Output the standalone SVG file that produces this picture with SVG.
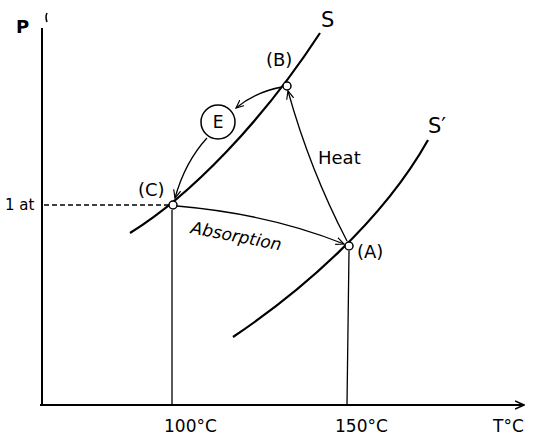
<svg xmlns="http://www.w3.org/2000/svg" width="533" height="439" viewBox="0 0 533 439">
<style>
text{font-family:"DejaVu Sans","Liberation Sans",sans-serif;fill:#000}
.lbl{font-size:17px}
.curve{fill:none;stroke:#000;stroke-width:2.2}
.thin{fill:none;stroke:#000;stroke-width:1.3}
.arr{fill:none;stroke:#000;stroke-width:1.3;marker-end:url(#ah)}
.pt{fill:#fff;stroke:#000;stroke-width:1.5}
</style>
<defs>
<marker id="ah" viewBox="0 0 10 10" refX="9" refY="5" markerWidth="9" markerHeight="9" orient="auto" markerUnits="userSpaceOnUse">
<path d="M0,1 L9,5 L0,9" fill="none" stroke="#000" stroke-width="1.3"/>
</marker>
<marker id="axh" viewBox="0 0 10 10" refX="9" refY="5" markerWidth="10" markerHeight="10" orient="auto" markerUnits="userSpaceOnUse">
<path d="M0,1 L9,5 L0,9" fill="none" stroke="#000" stroke-width="1.5"/>
</marker>
</defs>
<rect width="533" height="439" fill="#fff"/>
<g id="axes">
<path d="M42,28 L42,405" fill="none" stroke="#000" stroke-width="2"/>
<path d="M47,13 Q45,17 47,22" fill="none" stroke="#000" stroke-width="1.5"/>
<path d="M40,405 L524,405" fill="none" stroke="#000" stroke-width="2" marker-end="url(#axh)"/>
<text x="16" y="33" font-size="18" font-weight="bold">P</text>
<text x="5" y="210" font-size="15">1 at</text>
<text x="164" y="432" class="lbl">100°C</text>
<text x="335" y="432" class="lbl">150°C</text>
<text x="493" y="432" class="lbl">T°C</text>
</g>
<g id="curve-S">
<path class="curve" d="M130,233 C190,196 262,122 320,33"/>
<text x="321" y="27" font-size="21">S</text>
</g>
<g id="curve-S-prime">
<path class="curve" d="M233,337 C300,292 382,222 428,140"/>
<text x="428" y="133" font-size="21">S′</text>
</g>
<g id="connectors">
<path d="M44,205 L168,205" fill="none" stroke="#000" stroke-width="1.3" stroke-dasharray="5,3"/>
<path class="thin" d="M172,210 L172,405"/>
<path class="thin" d="M349,251 L347,405"/>
<path class="arr" d="M177,206 Q270,214 344,244"/>
<path class="arr" d="M347,241 Q310,170 288,91"/>
<path class="arr" d="M282,87 Q255,92 236,108"/>
<path class="arr" d="M207,138 Q185,162 175,198"/>
</g>
<g id="label-absorption">
<text x="190" y="233" class="lbl" font-style="italic" transform="rotate(11 190 233)">Absorption</text>
</g>
<g id="label-heat">
<text x="318" y="164" font-size="18">Heat</text>
</g>
<g id="node-E">
<circle cx="218" cy="122" r="17" fill="#fff" stroke="#000" stroke-width="1.5"/>
<text x="218" y="128" class="lbl" text-anchor="middle">E</text>
</g>
<g id="node-B">
<circle class="pt" cx="287" cy="86" r="4"/>
<text x="266" y="66" font-size="18">(B)</text>
</g>
<g id="node-C">
<circle class="pt" cx="173" cy="205" r="4"/>
<text x="138" y="196" font-size="18">(C)</text>
</g>
<g id="node-A">
<circle class="pt" cx="349" cy="246" r="4"/>
<text x="357" y="258" font-size="18">(A)</text>
</g>
</svg>
